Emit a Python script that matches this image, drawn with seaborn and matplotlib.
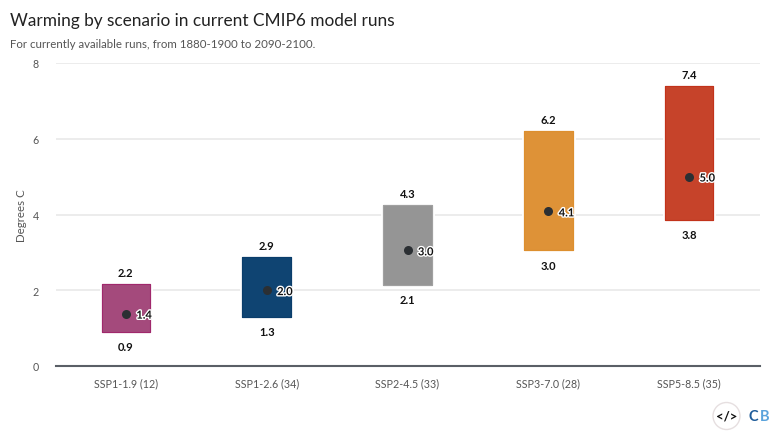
import numpy as np
import pandas as pd
import matplotlib as mpl
mpl.use("Agg")
import matplotlib.pyplot as plt
import matplotlib.patheffects as pe
import seaborn as sns

scenarios = ['SSP1-1.9 (12)', 'SSP1-2.6 (34)', 'SSP2-4.5 (33)', 'SSP3-7.0 (28)', 'SSP5-8.5 (35)']
low = [0.9, 1.3, 2.15, 3.05, 3.85]
high = [2.16, 2.87, 4.25, 6.2, 7.38]
mean = [1.38, 2.0, 3.05, 4.08, 5.0]
low_labels = ['0.9', '1.3', '2.1', '3.0', '3.8']
high_labels = ['2.2', '2.9', '4.3', '6.2', '7.4']
mean_labels = ['1.4', '2.0', '3.0', '4.1', '5.0']
colors = ['#A44A7C', '#0F4472', '#959595', '#DE9237', '#C6432A']
edges = ['#A0286C', '#0A3D6B', '#A0A0A0', '#DD8F2E', '#C2321A']
yticks = [0, 2, 4, 6, 8]

sns.set_theme(style='white')
plt.rcParams['font.family'] = ['Lato', 'DejaVu Sans']

df = pd.DataFrame({'scenario': scenarios, 'low': low, 'high': high, 'mean': mean})
df['span'] = df['high'] - df['low']

fig = plt.figure(figsize=(7.8, 4.39), dpi=100)
ax = fig.add_axes([55.5/780, (439-367)/439, 704/780, 303/439])

# no hue here, otherwise every bar gets the whole bottom array
sns.barplot(data=df, x='scenario', y='span', bottom=df['low'], width=0.345, saturation=1,
            color='gray', errorbar=None, ax=ax, zorder=3)
for bar, fc, ec in zip(ax.patches, colors, edges):
    bar.set_facecolor(fc)
    bar.set_edgecolor(ec)
    bar.set_linewidth(0.8)
    bar.set_path_effects([pe.withStroke(linewidth=3.5, foreground='white'), pe.Normal()])

sns.stripplot(data=df, x='scenario', y='mean', color='#2B2F33', size=6.5, jitter=False,
              ax=ax, zorder=5)

halo = [pe.withStroke(linewidth=2, foreground='white')]
for i in range(len(scenarios)):
    ax.annotate(high_labels[i], (i, high[i]), xytext=(0, 4.5), textcoords='offset points',
                ha='center', va='bottom', fontsize=8, fontweight='bold', color='#111111')
    ax.annotate(low_labels[i], (i, low[i]), xytext=(0, -6.5), textcoords='offset points',
                ha='center', va='top', fontsize=8, fontweight='bold', color='#111111')
    ax.annotate(mean_labels[i], (i, mean[i]), xytext=(7.5, -1), textcoords='offset points',
                ha='left', va='center', fontsize=8, fontweight='bold', color='#111111',
                path_effects=halo, zorder=6)

ax.set_ylim(0, 8)
ax.set_xlim(-0.5, 4.5)
ax.set_yticks(yticks)
ax.grid(axis='y', color='#E9E9E9', linewidth=1.2, zorder=0)
ax.set_axisbelow(True)
ax.set_xlabel('')
ax.set_ylabel('Degrees C', fontsize=8.3, color='#555555', labelpad=4)
ax.tick_params(axis='both', length=0, labelsize=7.7, labelcolor='#555555')
ax.tick_params(axis='x', pad=8)
ax.tick_params(axis='y', pad=12)
sns.despine(ax=ax, left=True, top=True, right=True)
ax.spines['bottom'].set_color('#5A5F66')
ax.spines['bottom'].set_linewidth(1.5)

fig.text(10/780, 1 - 21/439, 'Warming by scenario in current CMIP6 model runs', fontsize=12.4,
         color='#222222', va='center')
fig.text(10/780, 1 - 44.5/439, 'For currently available runs, from 1880-1900 to 2090-2100.',
         fontsize=8.3, color='#555555', va='center')

# logo bottom right
badge = plt.Circle((726.5, 439 - 417), 13.5, transform=None, facecolor='white',
                   edgecolor='#E6DFE0', linewidth=1)
fig.add_artist(badge)
fig.text(726.5/780, 1 - 417/439, '</>', fontsize=9.5, fontweight='bold', color='#111111',
         ha='center', va='center')
fig.text(748.5/780, 1 - 417/439, 'C', fontsize=10.5, fontweight='bold', color='#1F5C99',
         ha='left', va='center', family='DejaVu Sans Condensed' if False else 'Lato')
fig.text(760/780, 1 - 417/439, 'B', fontsize=10.5, fontweight='bold', color='#5AA3DC',
         ha='left', va='center')

fig.savefig('out.png', dpi=100)
